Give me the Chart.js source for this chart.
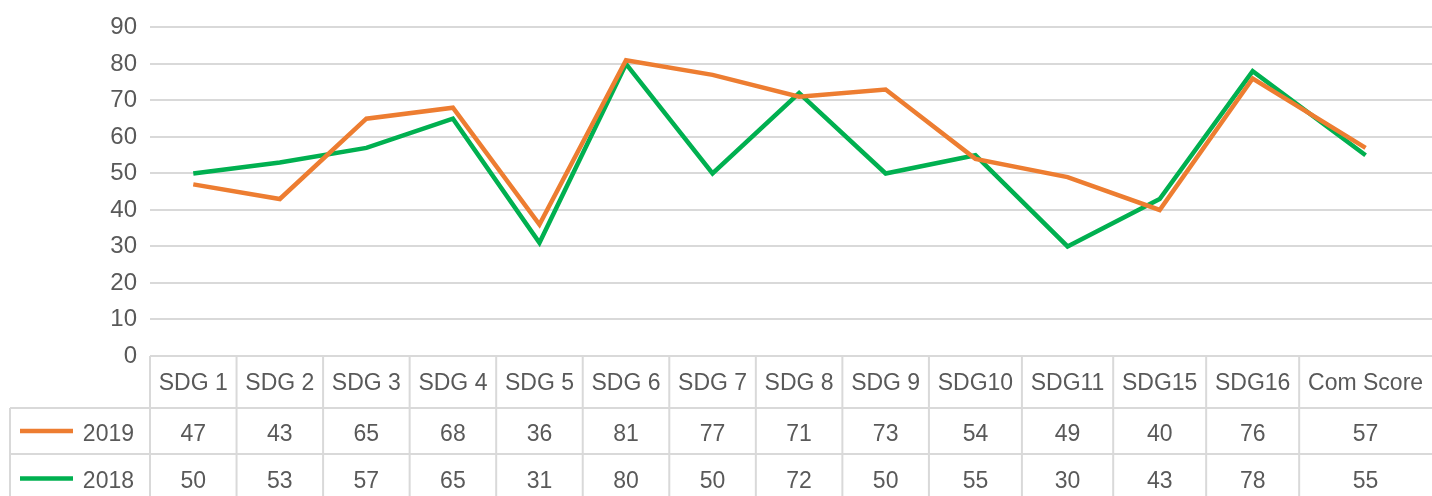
<!DOCTYPE html>
<html>
<head>
<meta charset="utf-8">
<script src="https://cdn.jsdelivr.net/npm/chart.js@4"></script>
<style>
  html, body { margin: 0; padding: 0; background: #fff; }
  #wrap { width: 1432px; height: 496px; }
</style>
</head>
<body>
<div id="wrap"><canvas id="chart" width="1432" height="496"></canvas></div>
<script>
// data
const categories = ['SDG 1', 'SDG 2', 'SDG 3', 'SDG 4', 'SDG 5', 'SDG 6', 'SDG 7',
  'SDG 8', 'SDG 9', 'SDG10', 'SDG11', 'SDG15', 'SDG16', 'Com Score'];
const scores2019 = [47, 43, 65, 68, 36, 81, 77, 71, 73, 54, 49, 40, 76, 57];
const scores2018 = [50, 53, 57, 65, 31, 80, 50, 72, 50, 55, 30, 43, 78, 55];
const seriesNames = ['2019', '2018'];
const yTicks = [0, 10, 20, 30, 40, 50, 60, 70, 80, 90];

const FONT = '"Liberation Sans", Arial, sans-serif';
const TEXT = '#595959';
const GRID = '#d9d9d9';
const ORANGE = '#ED7D31';
const GREEN = '#00B050';
const TABLE_FONT = 23;

// category axis where every column is as wide as its label needs (like the data table)
class TableCategoryScale extends Chart.CategoryScale {
  configure() {
    super.configure();
    const ctx = this.ctx;
    ctx.save();
    ctx.font = TABLE_FONT + 'px ' + FONT;
    const widths = this.getLabels().map(l => ctx.measureText(l).width + 17);
    ctx.restore();
    const total = widths.reduce((a, b) => a + b, 0);
    let acc = 0;
    this._edges = [0];
    widths.forEach(w => { acc += w; this._edges.push(acc / total); });
  }
  columnEdges() {
    return this._edges.map(e => this.left + e * this.width);
  }
  getPixelForValue(value) {
    if (typeof value !== 'number') value = this.parse(value);
    if (value === null || isNaN(value)) return NaN;
    const i = Math.max(0, Math.min(this._edges.length - 2, Math.round(value)));
    return this.left + this.width * (this._edges[i] + this._edges[i + 1]) / 2;
  }
}
TableCategoryScale.id = 'tableCategory';
TableCategoryScale.defaults = Chart.CategoryScale.defaults;
Chart.register(TableCategoryScale);

// data table drawn under the plot, columns taken from the x scale
const dataTable = {
  id: 'dataTable',
  afterDraw(chart) {
    const { ctx, chartArea } = chart;
    const xs = chart.scales.x;
    const edges = xs.columnEdges();
    const right = chart.width;
    const top = chartArea.bottom;
    const rows = [top + 52, top + 98, top + 144]; // bottom of each row
    const leftBox = 10;

    ctx.save();
    ctx.strokeStyle = GRID;
    ctx.lineWidth = 2;
    ctx.beginPath();
    ctx.moveTo(edges[0], top); ctx.lineTo(right, top);
    ctx.moveTo(leftBox, rows[0]); ctx.lineTo(right, rows[0]);
    ctx.moveTo(leftBox, rows[1]); ctx.lineTo(right, rows[1]);
    edges.slice(0, -1).forEach(e => { ctx.moveTo(e, top); ctx.lineTo(e, chart.height); });
    ctx.moveTo(leftBox, rows[0]); ctx.lineTo(leftBox, chart.height);
    ctx.stroke();

    ctx.fillStyle = TEXT;
    ctx.font = TABLE_FONT + 'px ' + FONT;
    ctx.textAlign = 'center';
    ctx.textBaseline = 'alphabetic';
    const base = [top + 34, rows[0] + 32.5, rows[1] + 34];
    categories.forEach((c, i) => {
      const cx = (edges[i] + edges[i + 1]) / 2;
      ctx.fillText(c, cx, base[0]);
    });
    chart.data.datasets.forEach((ds, r) => {
      ds.data.forEach((v, i) => {
        const cx = (edges[i] + edges[i + 1]) / 2;
        ctx.fillText(String(v), cx, base[r + 1]);
      });
      // legend key
      const ky = base[r + 1] - 9.5;
      ctx.strokeStyle = ds.borderColor;
      ctx.lineWidth = 4.5;
      ctx.beginPath();
      ctx.moveTo(20, ky); ctx.lineTo(73, ky);
      ctx.stroke();
      ctx.textAlign = 'right';
      ctx.fillText(ds.label, 134, base[r + 1]);
      ctx.textAlign = 'center';
    });
    ctx.restore();
  }
};

new Chart(document.getElementById('chart'), {
  type: 'line',
  data: {
    labels: categories,
    datasets: [
      { label: seriesNames[0], data: scores2019, borderColor: ORANGE },
      { label: seriesNames[1], data: scores2018, borderColor: GREEN },
    ],
  },
  options: {
    responsive: false,
    animation: false,
    events: [],
    layout: { padding: { top: 26, bottom: 140, left: 0, right: 0 } },
    elements: {
      line: { borderWidth: 4.5, tension: 0, fill: false },
      point: { radius: 0 },
    },
    plugins: { legend: { display: false }, tooltip: { enabled: false } },
    scales: {
      x: { type: 'tableCategory', display: false },
      y: {
        min: 0,
        max: 90,
        afterBuildTicks: s => { s.ticks = yTicks.map(v => ({ value: v })); },
        afterFit: s => { s.width = 150; },
        border: { display: false },
        grid: { color: GRID, lineWidth: 2, drawTicks: false },
        ticks: { color: TEXT, padding: 13, font: { family: FONT, size: 24 } },
      },
    },
  },
  plugins: [dataTable],
});
</script>
</body>
</html>
